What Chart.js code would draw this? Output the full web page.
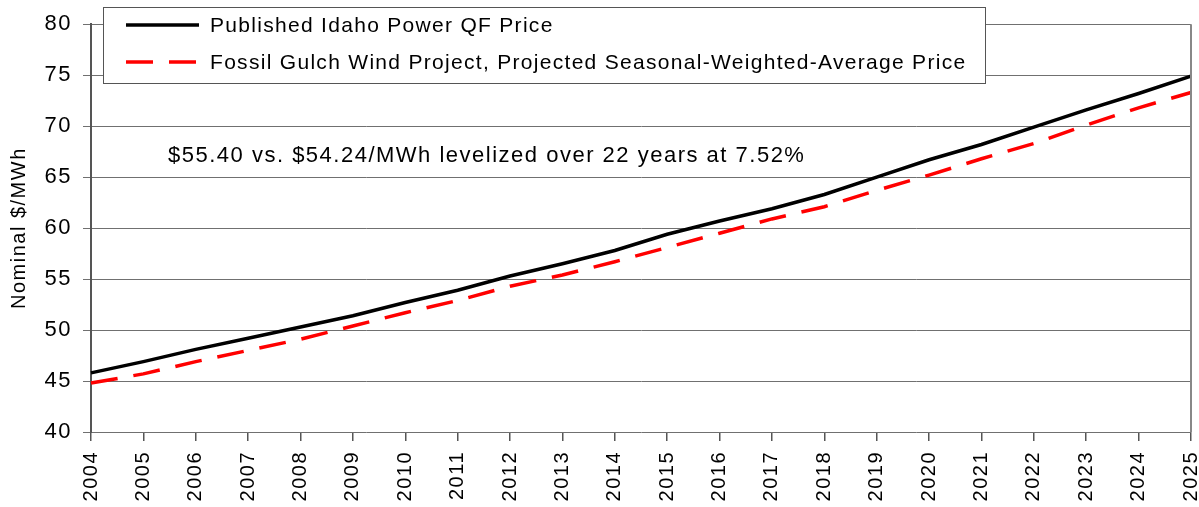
<!DOCTYPE html>
<html><head><meta charset="utf-8">
<script src="https://cdn.jsdelivr.net/npm/chart.js@4.4.1/dist/chart.umd.min.js"></script>
<style>html,body{margin:0;padding:0;background:#fff}#wrap{width:1199px;height:507px}</style>
</head><body><div id="wrap"><canvas id="c" width="1199" height="507"></canvas></div>
<script>
const years = ['2004','2005','2006','2007','2008','2009','2010','2011','2012','2013','2014','2015','2016','2017','2018','2019','2020','2021','2022','2023','2024','2025'];
const qfPrice = [45.8,46.9,48.1,49.2,50.3,51.4,52.7,53.9,55.3,56.5,57.8,59.4,60.7,61.9,63.3,65.0,66.7,68.2,69.9,71.6,73.2,74.9];
const windPrice = [44.8,45.7,46.9,48.0,49.1,50.4,51.7,52.9,54.3,55.4,56.7,58.1,59.5,60.9,62.1,63.7,65.2,66.8,68.3,70.1,71.8,73.3];
const seriesNames = ['Published Idaho Power QF Price','Fossil Gulch Wind Project, Projected Seasonal-Weighted-Average Price'];
const noteText = '$55.40 vs. $54.24/MWh levelized over 22 years at 7.52%';
const yTitle = 'Nominal $/MWh';
const FONT = '"Liberation Sans", Arial, sans-serif';

const spacing = {
  id:'spacing',
  beforeInit(chart){ chart.ctx.letterSpacing='1.5px'; },
  beforeUpdate(chart){ chart.ctx.letterSpacing='1.5px'; },
  beforeDraw(chart){ chart.ctx.letterSpacing='1.5px'; }
};

const overlay = {
  id:'overlay',
  afterDraw(chart){
    const ctx = chart.ctx, a = chart.chartArea;
    ctx.save();
    ctx.strokeStyle='#888'; ctx.lineWidth=2;
    ctx.beginPath(); ctx.moveTo(a.right, a.top); ctx.lineTo(a.right, a.bottom); ctx.stroke();
    ctx.fillStyle='#000'; ctx.font='22px '+FONT; ctx.letterSpacing='1.5px';
    ctx.textBaseline='middle'; ctx.textAlign='left';
    ctx.fillText(noteText, 168, 156);
    const bx=103, by=7, bw=882, bh=76;
    ctx.fillStyle='#fff'; ctx.fillRect(bx,by,bw,bh);
    ctx.strokeStyle='#555'; ctx.lineWidth=1;
    ctx.strokeRect(bx+0.5,by+0.5,bw,bh);
    const ds = chart.data.datasets;
    const rows=[25,62];
    ds.forEach((d,i)=>{
      ctx.strokeStyle=d.borderColor; ctx.lineWidth=d.borderWidth;
      ctx.setLineDash(d.borderDash||[]);
      ctx.beginPath(); ctx.moveTo(126,rows[i]); ctx.lineTo(199,rows[i]); ctx.stroke();
      ctx.setLineDash([]);
      ctx.fillStyle='#000'; ctx.font='21px '+FONT; ctx.letterSpacing='1.3px';
      ctx.fillText(d.label, 210, rows[i]+1);
    });
    ctx.restore();
  }
};

new Chart(document.getElementById('c'), {
  type:'line',
  data:{
    labels: years,
    datasets:[
      {label:seriesNames[0], data:qfPrice, borderColor:'#000', borderWidth:3.5, pointRadius:0, tension:0, fill:false},
      {label:seriesNames[1], data:windPrice, borderColor:'#ff0000', borderWidth:3.5, borderDash:[27,16], pointRadius:0, tension:0, fill:false}
    ]
  },
  options:{
    responsive:false, animation:false, devicePixelRatio:1,
    layout:{padding:{top:24,right:8,left:0,bottom:0}},
    plugins:{legend:{display:false}, tooltip:{enabled:false}},
    scales:{
      x:{
        offset:false,
        grid:{drawOnChartArea:false, drawTicks:true, tickLength:9, color:'#555', lineWidth:1.5},
        border:{display:false},
        ticks:{color:'#000', font:{family:FONT,size:20}, minRotation:90, maxRotation:90, autoSkip:false, padding:10},
        afterFit(s){ s.height = 75; s.paddingRight = 0; s.paddingLeft = 0; }
      },
      y:{
        min:40, max:80,
        grid:{color:'#707070', lineWidth:1, tickLength:8, drawTicks:true},
        border:{display:true, color:'#555', width:2},
        ticks:{stepSize:5, color:'#000', font:{family:FONT,size:22}, padding:11},
        title:{display:true, text:yTitle, color:'#000', font:{family:FONT,size:20}, padding:{top:7,bottom:0}},
        afterFit(s){ s.width = 91; }
      }
    }
  },
  plugins:[spacing, overlay]
});
</script></body></html>
